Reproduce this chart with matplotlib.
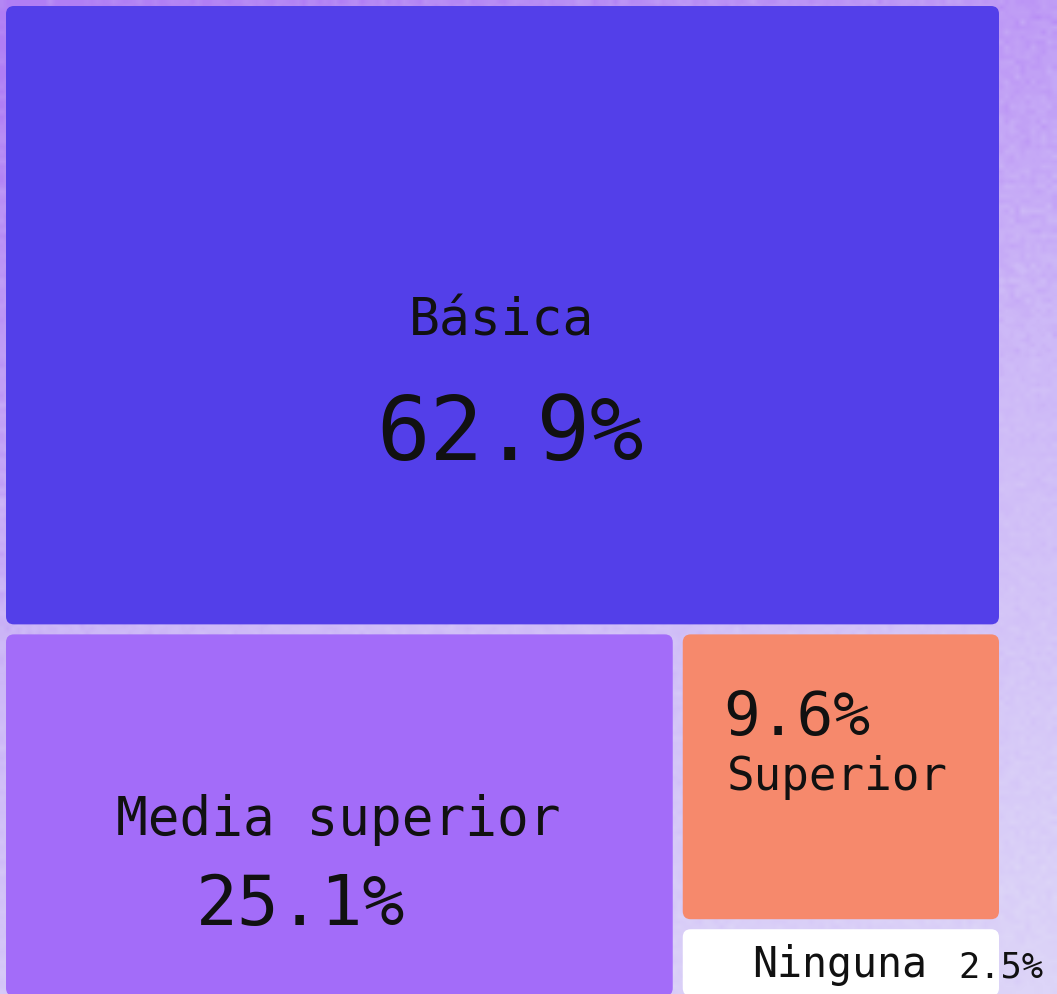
"""Treemap of schooling levels, rebuilt with matplotlib."""

import matplotlib

matplotlib.use("Agg")
import matplotlib.pyplot as plt
import numpy as np
from matplotlib.colors import LinearSegmentedColormap
from matplotlib.patches import FancyBboxPatch

CATEGORIES = ["Básica", "Media superior", "Superior", "Ninguna"]
SHARES = [62.9, 25.1, 9.6, 2.5]
COLORS = ["#533fe9", "#a36cf9", "#f6896c", "#ffffff"]

FONT = ["DejaVu Sans Mono"]
W, H = 1057, 994
AREA_W, AREA_H = 1003, 1000
PAD = 5


def layout(shares):
    """Slice layout: first block on top, then left block, then a stacked column."""
    total = sum(shares)
    top_h = AREA_H * shares[0] / total
    rest = total - shares[0]
    left_w = AREA_W * shares[1] / rest
    col = shares[2] + shares[3]
    rest_h = AREA_H - top_h
    mid_h = rest_h * shares[2] / col
    return [
        (0, 0, AREA_W, top_h),
        (0, top_h, left_w, rest_h),
        (left_w, top_h, AREA_W - left_w, mid_h),
        (left_w, top_h + mid_h, AREA_W - left_w, rest_h - mid_h),
    ]


fig = plt.figure(figsize=(W / 100, H / 100), dpi=100)
ax = fig.add_axes([0, 0, 1, 1])
ax.set_xlim(0, W)
ax.set_ylim(H, 0)
ax.axis("off")

# soft purple background with a light grain
yy, xx = np.mgrid[0:1:200j, 0:1:200j]
grad = np.clip(0.75 * yy + 0.25 * xx, 0, 1)
rng = np.random.default_rng(3)
grad = np.clip(grad + rng.normal(0, 0.04, grad.shape), 0, 1)
bg_cmap = LinearSegmentedColormap.from_list("bg", ["#b07ef4", "#cdb8f7", "#ddd5f8"])
ax.imshow(grad, cmap=bg_cmap, extent=(0, W, H, 0), aspect="auto",
          interpolation="bilinear", zorder=0)

rects = layout(SHARES)
for (x, y, w, h), color in zip(rects, COLORS):
    ax.add_patch(FancyBboxPatch(
        (x + PAD + 1, y + PAD + 1), w - 2 * PAD, h - 2 * PAD,
        boxstyle="round,pad=0,rounding_size=8",
        facecolor=color, edgecolor="none", zorder=2,
    ))

text_kw = dict(family=FONT, color="#111111", zorder=3, va="baseline")

# Básica
x, y, w, h = rects[0]
ax.text(x + w / 2, 336, CATEGORIES[0], fontsize=37, ha="center", **text_kw)
ax.text(x + w / 2 + 9, 460, f"{SHARES[0]}%", fontsize=64, ha="center", **text_kw)

# Media superior
x, y, w, h = rects[1]
ax.text(x + w / 2, 835, CATEGORIES[1], fontsize=38, ha="center", **text_kw)
ax.text(x + w / 2 - 38, 925, f"{SHARES[1]}%", fontsize=50, ha="center", **text_kw)

# Superior
x, y, w, h = rects[2]
ax.text(723, 735, f"{SHARES[2]}%", fontsize=44, ha="left", **text_kw)
ax.text(727, 790, CATEGORIES[2], fontsize=33, ha="left", **text_kw)

# Ninguna
x, y, w, h = rects[3]
ax.text(x + w / 2, 977, CATEGORIES[3], fontsize=30, ha="center", **text_kw)
ax.text(958, 977, f"{SHARES[3]}%", fontsize=25.5, ha="left", **text_kw)

fig.savefig("out.png", dpi=100)
